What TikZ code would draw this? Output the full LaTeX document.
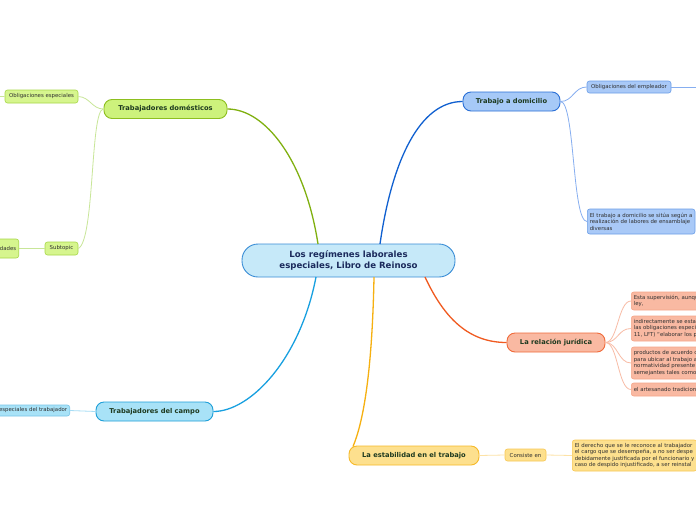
\documentclass[tikz,border=0pt]{standalone}
\usepackage{fontspec}
\setmainfont{DejaVu Sans}
\definecolor{cenF}{HTML}{C6E9F9}\definecolor{cenD}{HTML}{3A8DD6}\definecolor{cenT}{HTML}{1B2A5C}
\definecolor{grF}{HTML}{CDF27C}\definecolor{grD}{HTML}{8DBF1F}\definecolor{grL}{HTML}{80B010}
\definecolor{grsF}{HTML}{D6F58E}\definecolor{grsD}{HTML}{A8D848}\definecolor{grsL}{HTML}{C8E698}
\definecolor{cyF}{HTML}{A8E2F7}\definecolor{cyD}{HTML}{1E9FD8}\definecolor{cyL}{HTML}{18A0E0}\definecolor{cysL}{HTML}{A6DDF5}
\definecolor{blF}{HTML}{A6C9F7}\definecolor{blD}{HTML}{2A6FD6}\definecolor{blL}{HTML}{1060D0}
\definecolor{blsF}{HTML}{A9C9F7}\definecolor{blsD}{HTML}{6B9EE8}\definecolor{blsL}{HTML}{86AEF0}
\definecolor{orF}{HTML}{F9B9A2}\definecolor{orD}{HTML}{F06A3A}\definecolor{orL}{HTML}{F05A20}\definecolor{orsL}{HTML}{F8BCA6}
\definecolor{yeF}{HTML}{FDE08E}\definecolor{yeD}{HTML}{F6B928}\definecolor{yeL}{HTML}{F6B010}\definecolor{yesL}{HTML}{FDE2A6}
\definecolor{txG}{HTML}{1E3A20}\definecolor{txS}{HTML}{303030}
\tikzset{
 central/.style={draw=cenD,fill=cenF,rounded corners=16pt,line width=0.9pt,minimum width=213pt,minimum height=33pt,align=center,font=\bfseries\fontsize{8.6}{10.5}\selectfont,text=cenT,inner sep=0pt},
 topic/.style={rounded corners=8pt,line width=0.9pt,minimum height=19pt,font=\bfseries\fontsize{6.7}{8}\selectfont,text=txG,inner sep=0pt},
 sub/.style={rounded corners=2.5pt,line width=0.6pt,minimum height=12pt,font=\fontsize{5.4}{6.5}\selectfont,text=txS,inner sep=2.5pt,align=left},
 mainline/.style={line width=1.3pt},
 subline/.style={line width=0.8pt}
}
\begin{document}
\begin{tikzpicture}[x=1pt,y=-1pt]
\useasboundingbox (0,0) rectangle (696,520);
\clip (0,0) rectangle (696,520);
\fill[white] (0,0) rectangle (696,520);
% main topics
\node[central] (c) at (348.5,260.5) {Los regímenes laborales\\especiales, Libro de Reinoso};
\node[topic,draw=grD,fill=grF,minimum width=123pt] (dom) at (165.5,109) {Trabajadores domésticos};
\node[topic,draw=cyD,fill=cyF,minimum width=117pt] (cam) at (154.5,411.5) {Trabajadores del campo};
\node[topic,draw=blD,fill=blF,minimum width=97pt] (tad) at (511.5,101.5) {Trabajo a domicilio};
\node[topic,draw=orD,fill=orF,minimum width=98pt] (rel) at (556,342.5) {La relación jurídica};
\node[topic,draw=yeD,fill=yeF,minimum width=130pt] (est) at (414,455.5) {La estabilidad en el trabajo};
% subtopics
\node[sub,draw=grsD,fill=grsF,minimum width=73pt,minimum height=13pt] (oe) at (41.5,96.5) {Obligaciones especiales};
\node[sub,draw=grsD,fill=grsF,minimum width=33pt,minimum height=13pt] (st) at (61.5,248.5) {Subtopic};
\node[sub,draw=grsD,fill=grsF,minimum height=19pt,anchor=east] (act) at (19,248.5) {Actividades};
\node[sub,draw=cyD!60,fill=cyF,minimum height=11pt,anchor=east] (oet) at (70,410.5) {Obligaciones especiales del trabajador};
\node[sub,draw=blsD,fill=blsF,minimum width=84pt,minimum height=12pt] (oem) at (629,87) {Obligaciones del empleador};
\coordinate (oemr) at (720,87);
\coordinate (oel) at (-20,97);
\node[sub,draw=blsD,fill=blsF,anchor=west,minimum height=25pt] (tdt) at (587,221.5) {El trabajo a domicilio se sitúa según a\\realización de labores de ensamblaje\\diversas};
\node[sub,draw=orD!60,fill=orF,anchor=west,minimum height=18pt] (r1) at (631,301) {Esta supervisión, aunque\\ley,};
\node[sub,draw=orD!60,fill=orF,anchor=west,minimum height=25pt] (r2) at (631,328.5) {indirectamente se estable\\las obligaciones especiales\\11, LFT) “elaborar los pr};
\node[sub,draw=orD!60,fill=orF,anchor=west,minimum height=32pt] (r3) at (631,363) {productos de acuerdo con\\para ubicar al trabajo a\\normatividad presente en\\semejantes tales como};
\node[sub,draw=orD!60,fill=orF,anchor=west,minimum height=13pt] (r4) at (631,389.5) {el artesanado tradicional};
\node[sub,draw=yeD!80,fill=yeF,minimum width=41pt,minimum height=12pt] (con) at (525.5,455) {Consiste en};
\node[sub,draw=yeD!80,fill=yeF,anchor=west,minimum height=31pt] (der) at (572,455.5) {El derecho que se le reconoce al trabajador\\el cargo que se desempeña, a no ser despe\\debidamente justificada por el funcionario y\\caso de despido injustificado, a ser reinstal};
% main connectors
\draw[mainline,grL] (318,244) .. controls (305,160) and (265,109) .. (dom.east);
\draw[mainline,blL] (380,244) .. controls (392,160) and (420,101.5) .. (tad.west);
\draw[mainline,cyL] (316,277) .. controls (300,360) and (250,411.5) .. (cam.east);
\draw[mainline,yeL] (374,277) .. controls (372,380) and (362,425) .. (353,446.5);
\draw[mainline,orL] (425,277) .. controls (445,320) and (470,342.5) .. (rel.west);
% sub connectors
\draw[subline,grsL] (dom.west) .. controls (92,109) and (90,97) .. (oe.east);
\draw[subline,grsL] (dom.west) .. controls (90,109) and (95,240) .. (st.east);
\draw[subline,grsL] (st.west) -- (act.east);
\draw[subline,grsL] (oe.west) -- (oel);
\draw[subline,cysL] (cam.west) -- (oet.east);
\draw[subline,blsL] (tad.east) .. controls (573,101.5) and (574,87) .. (oem.west);
\draw[subline,blsL] (tad.east) .. controls (575,101.5) and (572,221.5) .. (tdt.west);
\draw[subline,blsL] (oem.east) -- (oemr);
\foreach \r in {r1,r2,r3,r4}{\draw[subline,orsL] (rel.east) .. controls (618,342.5) and (618,0|-\r.west) .. (\r.west);}
\draw[subline,yesL] (est.east) -- (con.west);
\draw[subline,yesL] (con.east) -- (der.west);
\end{tikzpicture}
\end{document}
